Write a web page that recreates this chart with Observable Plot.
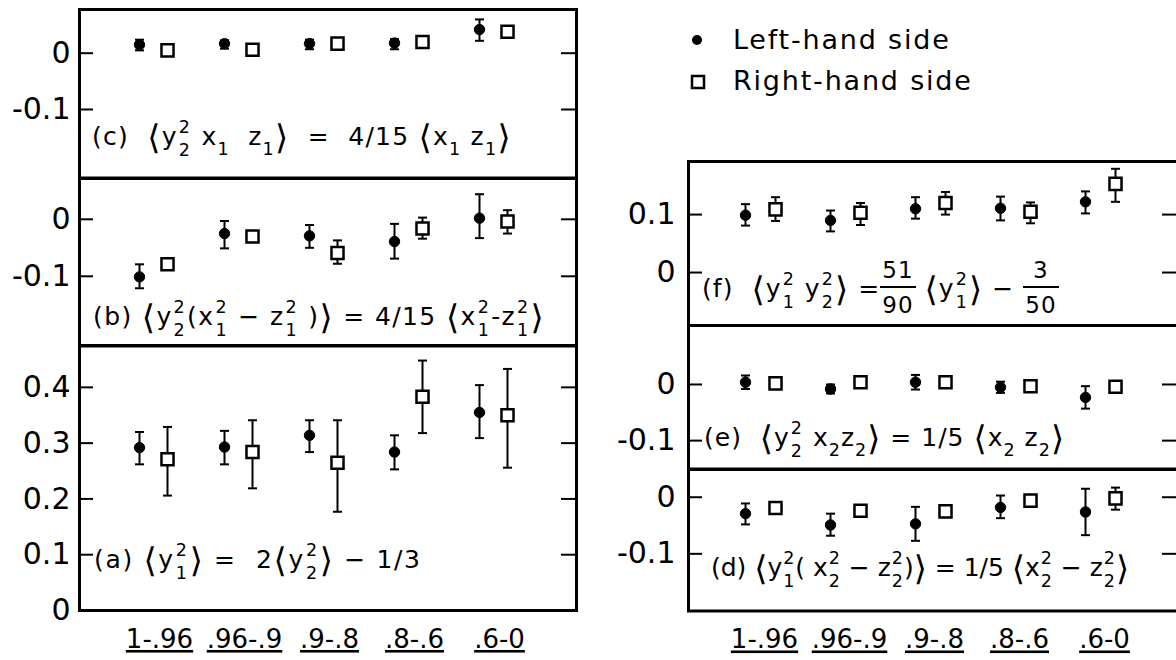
<!DOCTYPE html>
<html><head><meta charset="utf-8">
<script src="https://cdn.jsdelivr.net/npm/d3@7"></script>
<script src="https://cdn.jsdelivr.net/npm/@observablehq/plot@0.6"></script>
<style>
html,body{margin:0;padding:0;background:#fff;}
#root{position:relative;width:1176px;height:660px;overflow:hidden;background:#fff;font-family:"DejaVu Sans",sans-serif;color:#000;}
#root > svg{position:absolute;}
g[aria-label="x-axis tick label"] text{text-decoration:underline;text-decoration-thickness:2px;text-underline-offset:5px;}
.ann{position:absolute;white-space:pre;font-size:25px;line-height:1;}
.ss{display:inline-block;vertical-align:-0.62em;font-size:0.7em;line-height:1.3;margin:0 1px;}
.ss>span{display:block;}
.sb{font-size:0.7em;vertical-align:-0.55em;line-height:1;}
.br{font-size:1.35em;vertical-align:-0.12em;line-height:1;}
.frac{display:inline-block;vertical-align:-0.7em;text-align:center;line-height:1.5;font-size:0.92em;}
.frac>span{display:block;padding:0 2px;}
.frac>.num{border-bottom:2px solid #000;line-height:1.3;}
.leg{position:absolute;white-space:pre;font-size:27px;letter-spacing:1.8px;line-height:1;}
.legsym{position:absolute;}
</style></head><body><div id="root"></div>
<script>
// ---- categories / tick labels ----
const bins = ["1-.96", ".96-.9", ".9-.8", ".8-.6", ".6-0"];
const ticksC = [0, -0.1];
const ticksB = [0, -0.1];
const ticksA = [0, 0.1, 0.2, 0.3, 0.4];
const ticksF = [0, 0.1];
const ticksE = [0, -0.1];
const ticksD = [0, -0.1];

// ---- (c) <y2^2 x1 z1> = 4/15 <x1 z1> ----
const cLeft   = [0.015, 0.017, 0.017, 0.018, 0.042];
const cLeftLo = [0.005, 0.008, 0.007, 0.007, 0.022];
const cLeftHi = [0.024, 0.023, 0.024, 0.025, 0.060];
const cRight  = [0.005, 0.006, 0.017, 0.020, 0.038];
const cRightLo = [null, null, null, null, null];
const cRightHi = [null, null, null, null, null];

// ---- (b) <y2^2(x1^2 - z1^2)> = 4/15 <x1^2 - z1^2> ----
const bLeft   = [-0.101, -0.025, -0.029, -0.039, 0.002];
const bLeftLo = [-0.121, -0.051, -0.050, -0.069, -0.033];
const bLeftHi = [-0.079, -0.003, -0.010, -0.008, 0.044];
const bRight  = [-0.079, -0.030, -0.059, -0.016, -0.004];
const bRightLo = [null, null, -0.078, -0.034, -0.025];
const bRightHi = [null, null, -0.037, 0.003, 0.016];

// ---- (a) <y1^2> = 2<y2^2> - 1/3 ----
const aLeft   = [0.292, 0.293, 0.314, 0.284, 0.355];
const aLeftLo = [0.262, 0.262, 0.284, 0.253, 0.309];
const aLeftHi = [0.320, 0.322, 0.341, 0.314, 0.404];
const aRight  = [0.271, 0.284, 0.265, 0.383, 0.350];
const aRightLo = [0.206, 0.219, 0.177, 0.318, 0.256];
const aRightHi = [0.329, 0.341, 0.341, 0.448, 0.433];

// ---- (f) <y1^2 y2^2> = 51/90 <y1^2> - 3/50 ----
const fLeft   = [0.099, 0.090, 0.110, 0.111, 0.122];
const fLeftLo = [0.081, 0.071, 0.093, 0.090, 0.102];
const fLeftHi = [0.118, 0.107, 0.130, 0.131, 0.140];
const fRight  = [0.109, 0.103, 0.120, 0.105, 0.153];
const fRightLo = [0.089, 0.082, 0.100, 0.085, 0.122];
const fRightHi = [0.130, 0.120, 0.139, 0.121, 0.179];

// ---- (e) <y2^2 x2 z2> = 1/5 <x2 z2> ----
const eLeft   = [0.004, -0.008, 0.004, -0.005, -0.023];
const eLeftLo = [-0.008, -0.016, -0.009, -0.015, -0.043];
const eLeftHi = [0.016, 0.000, 0.017, 0.005, -0.003];
const eRight  = [0.002, 0.004, 0.004, -0.003, -0.004];
const eRightLo = [null, null, null, null, null];
const eRightHi = [null, null, null, null, null];

// ---- (d) <y1^2(x2^2 - z2^2)> = 1/5 <x2^2 - z2^2> ----
const dLeft   = [-0.029, -0.049, -0.047, -0.018, -0.026];
const dLeftLo = [-0.048, -0.068, -0.077, -0.037, -0.067];
const dLeftHi = [-0.011, -0.029, -0.017, 0.003, 0.015];
const dRight  = [-0.019, -0.024, -0.025, -0.006, -0.002];
const dRightLo = [null, null, null, null, -0.022];
const dRightHi = [null, null, null, null, 0.017];

// ---- texts ----
const legendLabels = ["Left-hand side", "Right-hand side"];
const annC = "(c)  ⟨y{2,2} x_1  z_1⟩  =  4/15 ⟨x_1 z_1⟩";
const annB = "(b) ⟨y{2,2}(x{2,1} − z{2,1} )⟩ = 4/15 ⟨x{2,1}-z{2,1}⟩";
const annA = "(a) ⟨y{2,1}⟩ =  2⟨y{2,2}⟩ − 1/3";
const annF = "(f)  ⟨y{2,1} y{2,2}⟩ =[51/90] ⟨y{2,1}⟩ − [3/50]";
const annE = "(e)  ⟨y{2,2} x_2z_2⟩ = 1/5 ⟨x_2 z_2⟩";
const annD = "(d) ⟨y{2,1}( x{2,2} − z{2,2})⟩ = 1/5 ⟨x{2,2} − z{2,2}⟩";

// ---------------------------------------------------------------
const root = document.getElementById("root");
const hline = {draw(ctx, size){ const w = Math.sqrt(size / Math.PI); ctx.moveTo(-w, 0); ctx.lineTo(w, 0); }};
const fmt = d => d === 0 ? "0" : String(d);

function series(v, lo, hi){ return bins.map((b, i) => ({bin: b, v: v[i], lo: lo[i], hi: hi[i]})); }

function panel(p){
  const innerW = p.x1 - p.x0, innerH = p.y1 - p.y0;
  const L = series(p.L, p.Llo, p.Lhi), R = series(p.R, p.Rlo, p.Rhi);
  const eL = L.filter(d => d.lo != null), eR = R.filter(d => d.lo != null);
  const marks = [
    Plot.frame({stroke: "black", strokeWidth: 3}),
    Plot.tickY(p.ticks, {y: d => d, insetRight: innerW - 14, stroke: "black", strokeWidth: 2}),
    Plot.tickY(p.ticks, {y: d => d, insetLeft: innerW - 15, stroke: "black", strokeWidth: 2}),
    Plot.axisY({ticks: p.ticks, tickSize: 0, tickPadding: p.tp, tickFormat: fmt, fontSize: 30, label: null}),
  ];
  for (const [E, dx] of [[eL, -p.off], [eR, p.off]]) {
    marks.push(Plot.ruleX(E, {x: "bin", y1: "lo", y2: "hi", dx, stroke: "black", strokeWidth: 2}));
    marks.push(Plot.dot(E, {x: "bin", y: "lo", dx, symbol: hline, r: 4.5, fill: "none", stroke: "black", strokeWidth: 2}));
    marks.push(Plot.dot(E, {x: "bin", y: "hi", dx, symbol: hline, r: 4.5, fill: "none", stroke: "black", strokeWidth: 2}));
  }
  marks.push(Plot.dot(L, {x: "bin", y: "v", dx: -p.off, r: 5.2, fill: "black", stroke: "black", strokeWidth: 1}));
  marks.push(Plot.dot(R, {x: "bin", y: "v", dx: p.off, symbol: "square", r: 6.8, fill: "white", stroke: "black", strokeWidth: 2.5}));
  if (p.xAxis) marks.push(Plot.axisX({tickSize: 0, tickPadding: 19, fontSize: 26, dx: p.labDx, label: null}));
  const svg = Plot.plot({
    width: innerW + p.mL + p.mR, height: innerH + p.mT + p.mB,
    marginLeft: p.mL, marginRight: p.mR, marginTop: p.mT, marginBottom: p.mB,
    style: "background:transparent;overflow:visible;font-family:'DejaVu Sans',sans-serif;color:#000;",
    x: {type: "point", domain: bins, padding: p.pad, align: p.align, axis: null, label: null},
    y: {domain: p.yDomain, axis: null, label: null},
    marks
  });
  svg.style.left = (p.x0 - p.mL) + "px";
  svg.style.top = (p.y0 - p.mT) + "px";
  root.appendChild(svg);
}

const leftCfg = {x0: 79, x1: 576, mL: 79, mR: 4, pad: 0.9, align: 0.47, tp: 9, off: 14, labDx: 6};
const rightCfg = {x0: 688, x1: 1177, mL: 90, mR: 4, pad: 0.85, align: 0.48, tp: 13, off: 15, labDx: 4};

panel({...leftCfg, y0: 9, y1: 177.5, mT: 9, mB: 4, yDomain: [-0.2217, 0.0776], ticks: ticksC,
  L: cLeft, Llo: cLeftLo, Lhi: cLeftHi, R: cRight, Rlo: cRightLo, Rhi: cRightHi});
panel({...leftCfg, y0: 177.5, y1: 345, mT: 4, mB: 4, yDomain: [-0.2223, 0.0716], ticks: ticksB,
  L: bLeft, Llo: bLeftLo, Lhi: bLeftHi, R: bRight, Rlo: bRightLo, Rhi: bRightHi});
panel({...leftCfg, y0: 345, y1: 610, mT: 4, mB: 50, yDomain: [0, 0.475], ticks: ticksA, xAxis: true,
  L: aLeft, Llo: aLeftLo, Lhi: aLeftHi, R: aRight, Rlo: aRightLo, Rhi: aRightHi});
panel({...rightCfg, y0: 161, y1: 325, mT: 4, mB: 4, yDomain: [-0.0914, 0.1916], ticks: ticksF,
  L: fLeft, Llo: fLeftLo, Lhi: fLeftHi, R: fRight, Rlo: fRightLo, Rhi: fRightHi});
panel({...rightCfg, y0: 325, y1: 468.5, mT: 4, mB: 4, yDomain: [-0.1505, 0.105], ticks: ticksE,
  L: eLeft, Llo: eLeftLo, Lhi: eLeftHi, R: eRight, Rlo: eRightLo, Rhi: eRightHi});
panel({...rightCfg, y0: 468.5, y1: 610, mT: 4, mB: 50, yDomain: [-0.201, 0.049], ticks: ticksD, xAxis: true,
  L: dLeft, Llo: dLeftLo, Lhi: dLeftHi, R: dRight, Rlo: dRightLo, Rhi: dRightHi});

// ---- math annotations (HTML text) ----
function toHTML(s){
  return s
    .replace(/([⟨⟩])/g, '<span class="br">$1</span>')
    .replace(/\[(\w+)\/(\w+)\]/g, '<span class="frac"><span class="num">$1</span><span>$2</span></span>')
    .replace(/\{(\w+),(\w+)\}/g, '<span class="ss"><span>$1</span><span>$2</span></span>')
    .replace(/_(\w)/g, '<span class="sb">$1</span>');
}
function placeAt(el, x, base){
  el.style.left = x + "px"; el.style.top = "0px";
  const probe = document.createElement("span");
  probe.style.cssText = "display:inline-block;width:0;height:0;vertical-align:baseline;";
  el.prepend(probe);
  const rb = probe.getBoundingClientRect().bottom - root.getBoundingClientRect().top;
  el.style.top = (base - rb) + "px";
}
function ann(s, x, base, xEnd){
  const el = document.createElement("div");
  el.className = "ann";
  el.innerHTML = toHTML(s);
  root.appendChild(el);
  // spread letters so the line spans the same width as in the reference
  const w = el.getBoundingClientRect().width;
  const n = el.textContent.length;
  el.style.letterSpacing = ((xEnd - x - w) / n) + "px";
  placeAt(el, x, base);
}
ann(annC, 92, 145, 513);
ann(annB, 93, 325, 552);
ann(annA, 94, 568, 425);
ann(annF, 702, 297, 1065);
ann(annE, 704, 446, 1066);
ann(annD, 711, 576, 1129);

// ---- legend ----
const ns = "http://www.w3.org/2000/svg";
function legSym(kind, cx, cy){
  const s = document.createElementNS(ns, "svg");
  s.setAttribute("width", 20); s.setAttribute("height", 20);
  s.setAttribute("class", "legsym");
  s.style.left = (cx - 10) + "px"; s.style.top = (cy - 10) + "px";
  let e;
  if (kind === "circle") { e = document.createElementNS(ns, "circle"); e.setAttribute("cx", 10); e.setAttribute("cy", 10); e.setAttribute("r", 5); e.setAttribute("fill", "black"); }
  else { e = document.createElementNS(ns, "rect"); e.setAttribute("x", 4); e.setAttribute("y", 4); e.setAttribute("width", 12); e.setAttribute("height", 12); e.setAttribute("fill", "white"); e.setAttribute("stroke", "black"); e.setAttribute("stroke-width", 2.5); }
  s.appendChild(e);
  root.appendChild(s);
}
legSym("circle", 697, 40);
legSym("square", 698, 82);
legendLabels.forEach((t, i) => {
  const el = document.createElement("div");
  el.className = "leg"; el.textContent = t;
  root.appendChild(el);
  placeAt(el, 733, i === 0 ? 49 : 90);
});
</script></body></html>
